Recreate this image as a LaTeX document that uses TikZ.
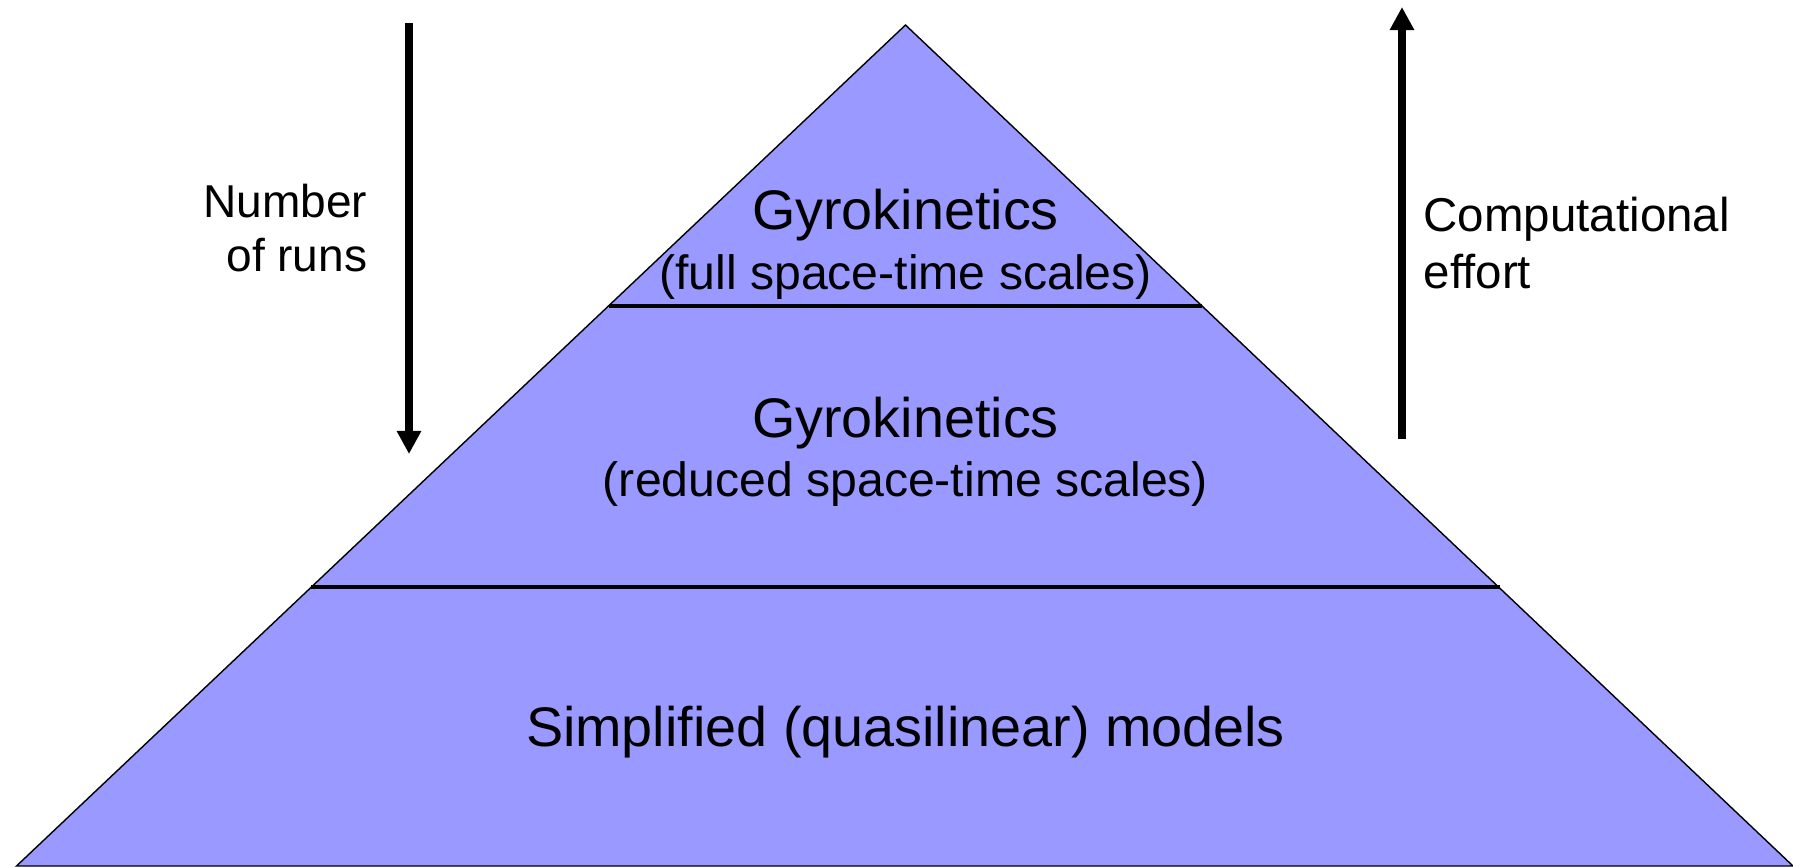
\documentclass[tikz,border=0pt]{standalone}
\usepackage{fontspec}
\setmainfont{Liberation Sans}
\usetikzlibrary{arrows.meta}
\definecolor{layerblue}{HTML}{9999FF}
\tikzset{
  layer/.style={fill=layerblue, draw=black, line width=0.4pt},
  divider/.style={draw=black, line width=0.9pt},
  bigarrow/.style={line width=2.3pt, -{Triangle[width=0.23cm,length=0.23cm]}},
  title/.style={anchor=base, inner sep=0pt, font=\fontsize{15.85}{18}\selectfont},
  subtitle/.style={anchor=base, inner sep=0pt, font=\fontsize{13.7}{16}\selectfont},
  sidelabel/.style={inner sep=0pt, font=\fontsize{13.1}{15.6}\selectfont}
}
\begin{document}
\begin{tikzpicture}[x=0.01cm, y=-0.01cm]
                \useasboundingbox (0,0) rectangle (1793,866);
                \coordinate (apex) at (905.5,25);
                \coordinate (baseL) at (16.5,866);
                \coordinate (baseR) at (1793,866);
                \coordinate (topL) at (609,306);
                \coordinate (topR) at (1202,306);
                \coordinate (midL) at (311,587);
                \coordinate (midR) at (1500,587);
                \path[layer] (apex) -- (baseR) -- (baseL) -- cycle;
                \draw[divider] (topL) -- (topR);
                \draw[divider] (midL) -- (midR);
                % layer texts
                \node[title] (gkfull) at (905.5,229) {Gyrokinetics};
                \node[subtitle] (gkfullsub) at (905.5,289) {(full space-time scales)};
                \node[title] (gkred) at (905.5,437) {Gyrokinetics};
                \node[subtitle] (gkredsub) at (905.5,496) {(reduced space-time scales)};
                \node[title] (simple) at (905.5,746) {Simplified (quasilinear) models};
                % side arrows
                \coordinate (runsTop) at (409,23);
                \coordinate (runsBot) at (409,454);
                \coordinate (effBot) at (1402,439);
                \coordinate (effTop) at (1402,7);
                \draw[bigarrow] (runsTop) -- (runsBot);
                \draw[bigarrow] (effBot) -- (effTop);
                \node[sidelabel, align=right, anchor=north east] (runs) at (368,183) {Number\\of runs};
                \node[sidelabel, align=left, anchor=north west, font=\fontsize{13.5}{16.4}\selectfont] (effort) at (1423,196) {Computational\\effort};
            \end{tikzpicture}
\end{document}
